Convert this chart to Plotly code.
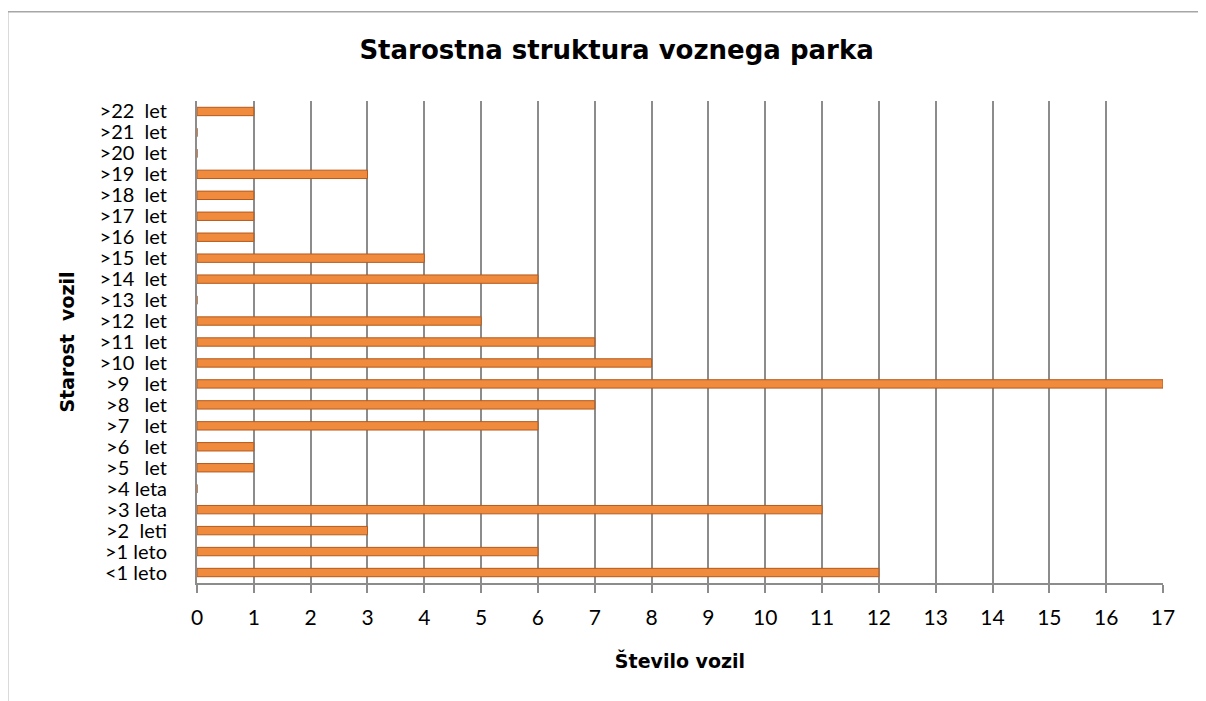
import plotly.graph_objects as go

NB = "\u00a0"

# starostni razredi (od spodaj navzgor) in stevilo vozil
razredi = ["<1 leto", ">1 leto", ">2" + NB * 2 + "leti", ">3 leta", ">4 leta",
           ">5" + NB * 3 + "let", ">6" + NB * 3 + "let", ">7" + NB * 3 + "let",
           ">8" + NB * 3 + "let", ">9" + NB * 3 + "let",
           ">10" + NB * 2 + "let", ">11" + NB * 2 + "let", ">12" + NB * 2 + "let",
           ">13" + NB * 2 + "let", ">14" + NB * 2 + "let", ">15" + NB * 2 + "let",
           ">16" + NB * 2 + "let", ">17" + NB * 2 + "let", ">18" + NB * 2 + "let",
           ">19" + NB * 2 + "let", ">20" + NB * 2 + "let", ">21" + NB * 2 + "let",
           ">22" + NB * 2 + "let"]
stevilo = [12, 6, 3, 11, 0, 1, 1, 6, 7, 17, 8, 7, 5, 0, 6, 4, 1, 1, 1, 3, 0, 0, 1]

fig = go.Figure()
fig.add_trace(go.Bar(
    x=stevilo, y=razredi, orientation="h",
    width=0.4,
    marker=dict(color="#F08A3C", line=dict(color="#B45A1E", width=1)),
))

# stran ima 8 px roba, zato je slika nekoliko manjsa
fig.update_layout(
    width=1198, height=693,
    margin=dict(l=189, r=43, t=93, b=118),
    paper_bgcolor="white", plot_bgcolor="white",
    showlegend=False,
    title=dict(text="<b>Starostna struktura voznega parka</b>",
               x=0.508, xanchor="center", y=0.94, yanchor="middle",
               font=dict(family="DejaVu Sans", size=26, color="black")),
    font=dict(family="Lato", color="black"),
)

fig.update_xaxes(
    range=[0, 17], dtick=1, tick0=0, automargin=False,
    showgrid=True, gridcolor="#8c8c8c", gridwidth=2,
    showline=True, linecolor="#8c8c8c", linewidth=2,
    ticks="outside", ticklen=8, tickcolor="#8c8c8c", tickwidth=2,
    tickfont=dict(family="Lato", size=21),
    ticklabelstandoff=7,
    zeroline=False,
    title=dict(text="<b>Število vozil</b>", standoff=26,
               font=dict(family="DejaVu Sans", size=19)),
)
fig.update_yaxes(
    categoryorder="array", categoryarray=razredi,
    tickmode="array", tickvals=razredi, automargin=False,
    showline=True, linecolor="#8c8c8c", linewidth=2,
    ticks="", tickfont=dict(family="Lato", size=20),
    ticklabelstandoff=24,
    showgrid=False,
    title=dict(text="<b>Starost" + NB * 2 + "vozil</b>", standoff=20,
               font=dict(family="DejaVu Sans", size=19)),
)

# okvir grafikona
fig.add_shape(type="rect", xref="paper", yref="paper",
              x0=-0.196, x1=1.1, y0=-0.4, y1=1.185,
              line=dict(color="#a6a6a6", width=1.5), layer="below")

fig.write_html("out.html")
